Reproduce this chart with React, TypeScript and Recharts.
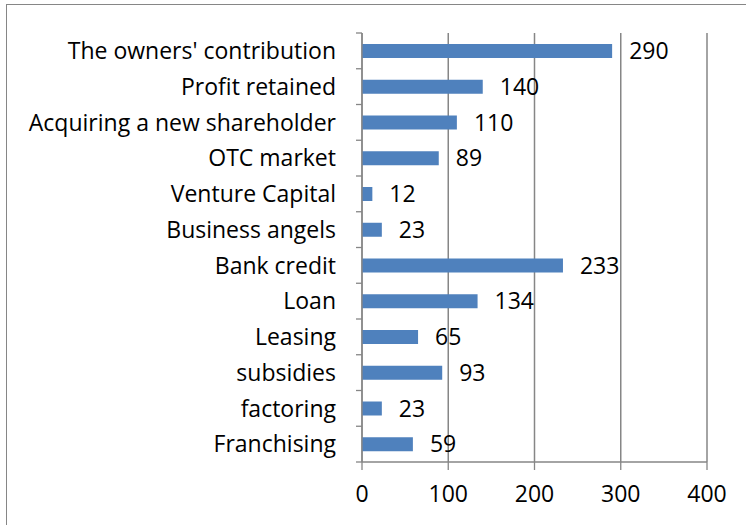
import React from 'react';
import { BarChart, Bar, XAxis, YAxis, CartesianGrid, LabelList } from 'recharts';

const categories = [
  "The owners' contribution",
  'Profit retained',
  'Acquiring a new shareholder',
  'OTC market',
  'Venture Capital',
  'Business angels',
  'Bank credit',
  'Loan',
  'Leasing',
  'subsidies',
  'factoring',
  'Franchising',
];
const values = [290, 140, 110, 89, 12, 23, 233, 134, 65, 93, 23, 59];
const xTicks = [0, 100, 200, 300, 400];

const data = categories.map((name, i) => ({ name, value: values[i] }));

const W = 746;
const H = 525;
const M = { top: 33, right: 39, bottom: 0, left: 0 };
const X_AXIS_H = 63;
const BAND = (H - M.top - M.bottom - X_AXIS_H) / categories.length;
const FONT = '"Open Sans", "Noto Sans", sans-serif';
const GREY = '#868686';

const CategoryTick = (props: any) => {
  const { x, y, payload, index } = props;
  return (
    <g>
      <line x1={x + 20} x2={x + 26} y1={y - BAND / 2} y2={y - BAND / 2} stroke={GREY} strokeWidth={1.3} />
      {index === categories.length - 1 && (
        <line x1={x + 20} x2={x + 26} y1={y + BAND / 2} y2={y + BAND / 2} stroke={GREY} strokeWidth={1.3} />
      )}
      <text x={x} y={y} dy="0.36em" textAnchor="end" fontSize={23} fill="#000" fontFamily={FONT}>
        {payload.value}
      </text>
    </g>
  );
};

export default function App() {
  return (
    <div style={{ position: 'absolute', left: 0, top: 0, width: W, height: H, overflow: 'hidden', background: '#fff' }}>
      <div
        style={{
          position: 'absolute',
          left: 6,
          top: 4,
          width: W,
          height: H,
          border: `1px solid ${GREY}`,
        }}
      />
      <div style={{ position: 'absolute', left: 0, top: 0 }}>
        <BarChart width={W} height={H} data={data} layout="vertical" margin={M} barSize={14}>
          <CartesianGrid horizontal={false} stroke={GREY} strokeWidth={1.5} />
          <XAxis
            type="number"
            domain={[0, 400]}
            ticks={xTicks}
            height={X_AXIS_H}
            stroke={GREY}
            strokeWidth={1.3}
            tickSize={8}
            tickMargin={16}
            tick={{ fontSize: 23, fill: '#000', fontFamily: FONT }}
          />
          <YAxis
            type="category"
            dataKey="name"
            width={362}
            stroke={GREY}
            strokeWidth={1.3}
            tickLine={false}
            tickSize={6}
            tickMargin={20}
            interval={0}
            tick={<CategoryTick />}
          />
          <Bar dataKey="value" fill="#4f81bd" isAnimationActive={false}>
            <LabelList
              dataKey="value"
              position="right"
              offset={17}
              style={{ fontSize: 23, fill: '#000', fontFamily: FONT }}
            />
          </Bar>
        </BarChart>
      </div>
    </div>
  );
}
